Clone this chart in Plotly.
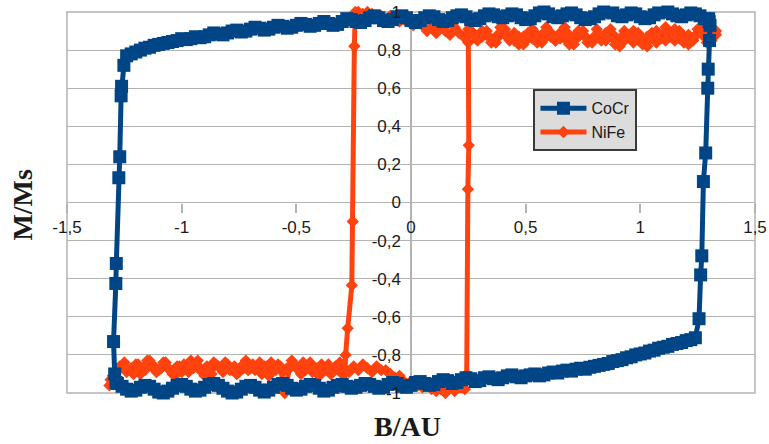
import plotly.graph_objects as go

# ---- CoCr hysteresis loop (B in AU, normalised magnetisation M/Ms) ----
# descending branch, from positive saturation towards the negative switching field
COCR_DOWN_B = [1.30, 1.28, 1.26, 1.24, 1.22,
               1.20, 1.18, 1.16, 1.14, 1.12, 1.10, 1.08, 1.06, 1.04, 1.02,
               1.00, 0.98, 0.96, 0.94, 0.92, 0.90, 0.88, 0.86, 0.84, 0.82,
               0.80, 0.78, 0.76, 0.74, 0.72, 0.70, 0.68, 0.66, 0.64, 0.62,
               0.60, 0.58, 0.56, 0.54, 0.52, 0.50, 0.48, 0.46, 0.44, 0.42,
               0.40,
               0.38, 0.36, 0.34, 0.32, 0.30, 0.28, 0.26, 0.24, 0.22, 0.20,
               0.18, 0.16, 0.14, 0.12, 0.10, 0.08, 0.06, 0.04, 0.02, 0.00,
               -0.02, -0.04, -0.06, -0.08, -0.10, -0.12, -0.14, -0.16, -0.18, -0.20,
               -0.22, -0.24, -0.26, -0.28, -0.30, -0.32, -0.34, -0.36, -0.38, -0.40,
               -0.42, -0.44, -0.46, -0.48, -0.50, -0.52, -0.54, -0.56, -0.58, -0.60,
               -0.62, -0.64, -0.66, -0.68, -0.70, -0.72, -0.74, -0.76, -0.78, -0.80,
               -0.82, -0.84, -0.86, -0.88, -0.90, -0.92, -0.94, -0.96, -0.98, -1.00,
               -1.02, -1.04, -1.06, -1.08, -1.10, -1.12, -1.14, -1.16, -1.18, -1.20,
               -1.22, -1.24]
COCR_DOWN_M = [0.95, 0.965, 0.98, 0.99, 0.995,
               0.985, 0.975, 0.98, 0.99, 1.0, 1.005, 0.995, 0.985, 0.97, 0.965,
               0.975, 0.99, 0.995, 0.985, 0.975, 0.98, 0.995, 1.005, 1.0, 0.99,
               0.975, 0.965, 0.96, 0.97, 0.985, 0.995, 0.99, 0.98, 0.97, 0.975,
               0.99, 1.0, 0.995, 0.98, 0.965, 0.96, 0.97, 0.985, 0.99, 0.98,
               0.97,
               0.975, 0.985, 0.99, 0.98, 0.965, 0.955, 0.96, 0.975, 0.985, 0.98,
               0.97, 0.955, 0.95, 0.96, 0.975, 0.98, 0.97, 0.955, 0.945, 0.955,
               0.97, 0.98, 0.975, 0.96, 0.95, 0.955, 0.97, 0.98, 0.97, 0.955,
               0.945, 0.95, 0.96, 0.965, 0.95, 0.935, 0.93, 0.94, 0.95, 0.94,
               0.93, 0.925, 0.935, 0.94, 0.93, 0.92, 0.915, 0.925, 0.93, 0.92,
               0.91, 0.905, 0.915, 0.92, 0.91, 0.90, 0.895, 0.905, 0.90, 0.89,
               0.88, 0.885, 0.89, 0.88, 0.87, 0.865, 0.87, 0.86, 0.855, 0.86,
               0.85, 0.845, 0.84, 0.835, 0.83, 0.825, 0.815, 0.81, 0.80, 0.79,
               0.78, 0.77]
# switching to negative saturation
COCR_FLIP_DOWN_B = [-1.252, -1.262, -1.264, -1.270, -1.274, -1.285, -1.287, -1.297, -1.292, -1.286]
COCR_FLIP_DOWN_M = [0.72, 0.61, 0.56, 0.24, 0.13, -0.32, -0.425, -0.73, -0.90, -0.945]
# ascending branch
COCR_UP_B = [-1.28, -1.26, -1.24, -1.22, -1.20, -1.18, -1.16, -1.14, -1.12, -1.10,
             -1.08, -1.06, -1.04, -1.02, -1.00, -0.98, -0.96, -0.94, -0.92, -0.90,
             -0.88, -0.86, -0.84, -0.82, -0.80, -0.78, -0.76, -0.74, -0.72, -0.70,
             -0.68, -0.66, -0.64, -0.62, -0.60, -0.58, -0.56, -0.54, -0.52, -0.50,
             -0.48, -0.46, -0.44, -0.42, -0.40, -0.38, -0.36, -0.34, -0.32, -0.30,
             -0.28, -0.26, -0.24, -0.22, -0.20,
             -0.18, -0.16, -0.14, -0.12, -0.10, -0.08, -0.06, -0.04, -0.02, 0.00,
             0.02, 0.04, 0.06, 0.08, 0.10, 0.12, 0.14, 0.16, 0.18, 0.20,
             0.22, 0.24, 0.26, 0.28, 0.30, 0.32, 0.34, 0.36, 0.38, 0.40,
             0.42, 0.44, 0.46, 0.48, 0.50,
             0.52, 0.54, 0.56, 0.58, 0.60, 0.62, 0.64, 0.66, 0.68, 0.70,
             0.72, 0.74, 0.76, 0.78, 0.80, 0.82, 0.84, 0.86, 0.88, 0.90,
             0.92, 0.94, 0.96, 0.98, 1.00, 1.02, 1.04, 1.06, 1.08, 1.10,
             1.12, 1.14, 1.16, 1.18, 1.20, 1.22, 1.24]
COCR_UP_M = [-0.95, -0.965, -0.98, -0.99, -0.985, -0.97, -0.96, -0.965, -0.98, -0.995,
             -1.0, -0.99, -0.975, -0.96, -0.955, -0.965, -0.98, -0.99, -0.985, -0.97,
             -0.955, -0.95, -0.96, -0.975, -0.99, -1.0, -0.995, -0.98, -0.965, -0.96,
             -0.97, -0.985, -0.995, -0.985, -0.97, -0.955, -0.95, -0.96, -0.975, -0.985,
             -0.98, -0.965, -0.955, -0.96, -0.975, -0.99, -0.985, -0.97, -0.96, -0.955,
             -0.965, -0.975, -0.97, -0.96, -0.95,
             -0.955, -0.965, -0.975, -0.97, -0.955, -0.945, -0.95, -0.965, -0.97, -0.96,
             -0.945, -0.94, -0.95, -0.96, -0.955, -0.94, -0.93, -0.935, -0.95, -0.945,
             -0.93, -0.92, -0.925, -0.94, -0.935, -0.92, -0.915, -0.925, -0.93, -0.92,
             -0.91, -0.905, -0.915, -0.92, -0.91,
             -0.905, -0.90, -0.91, -0.905, -0.895, -0.89, -0.895, -0.885, -0.88, -0.885,
             -0.875, -0.87, -0.875, -0.865, -0.86, -0.855, -0.85, -0.845, -0.835, -0.83,
             -0.825, -0.815, -0.81, -0.80, -0.795, -0.79, -0.78, -0.775, -0.765, -0.76,
             -0.755, -0.745, -0.74, -0.735, -0.725, -0.72, -0.71]
# switching back to positive saturation
COCR_FLIP_UP_B = [1.256, 1.263, 1.268, 1.275, 1.285, 1.294, 1.296, 1.302, 1.304, 1.298]
COCR_FLIP_UP_M = [-0.61, -0.38, -0.28, 0.11, 0.26, 0.60, 0.70, 0.85, 0.93, 0.965]

# ---- NiFe hysteresis loop ----
NIFE_DOWN_B = [1.33, 1.31, 1.29, 1.27, 1.25, 1.23, 1.21, 1.19, 1.17, 1.15,
               1.13, 1.11, 1.09, 1.07, 1.05, 1.03, 1.01, 0.99, 0.97, 0.95,
               0.93, 0.91, 0.89, 0.87, 0.85, 0.83, 0.81, 0.79, 0.77, 0.75,
               0.73, 0.71, 0.69, 0.67, 0.65, 0.63, 0.61, 0.59, 0.57, 0.55,
               0.53, 0.51, 0.49, 0.47, 0.45, 0.43, 0.41, 0.39, 0.37, 0.35,
               0.33, 0.31, 0.29, 0.27, 0.25, 0.23, 0.21, 0.19, 0.17, 0.15,
               0.13, 0.11,
               0.09, 0.07, 0.05, 0.03, 0.01, -0.01, -0.03, -0.05,
               -0.07, -0.09, -0.11, -0.13, -0.15, -0.17, -0.19, -0.21, -0.23]
NIFE_DOWN_M = [0.90, 0.87, 0.84, 0.88, 0.91, 0.86, 0.83, 0.87, 0.90, 0.85,
               0.88, 0.92, 0.86, 0.84, 0.89, 0.87, 0.83, 0.86, 0.90, 0.88,
               0.85, 0.82, 0.87, 0.91, 0.89, 0.85, 0.88, 0.84, 0.86, 0.90,
               0.87, 0.83, 0.88, 0.92, 0.86, 0.85, 0.89, 0.87, 0.84, 0.88,
               0.91, 0.86, 0.83, 0.87, 0.89, 0.85, 0.88, 0.92, 0.87, 0.84,
               0.88, 0.90, 0.86, 0.89, 0.91, 0.87, 0.89, 0.92, 0.88, 0.90,
               0.93, 0.89,
               0.92, 0.90, 0.93, 0.94, 0.93, 0.95, 0.96, 0.95,
               0.97, 0.98, 0.96, 0.98, 0.97, 0.99, 1.00, 0.99, 1.00]
NIFE_FLIP_DOWN_B = [-0.243, -0.247, -0.254, -0.258, -0.276, -0.285, -0.290, -0.300]
NIFE_FLIP_DOWN_M = [1.00, 0.82, -0.10, -0.435, -0.66, -0.80, -0.97, -0.90]
NIFE_LOW_B = [-0.32, -0.34, -0.36, -0.38, -0.40, -0.42, -0.44, -0.46, -0.48, -0.50,
              -0.52, -0.54, -0.56, -0.58, -0.60, -0.62, -0.64, -0.66, -0.68, -0.70,
              -0.72, -0.74, -0.76, -0.78, -0.80, -0.82, -0.84, -0.86, -0.88, -0.90,
              -0.92, -0.94, -0.96, -0.98, -1.00, -1.02, -1.04, -1.06, -1.08, -1.10,
              -1.12, -1.14, -1.16, -1.18, -1.20, -1.22, -1.24, -1.26, -1.28, -1.30,
              -1.31]
NIFE_LOW_M = [-0.86, -0.89, -0.85, -0.88, -0.91, -0.87, -0.84, -0.88, -0.90, -0.86,
              -0.83, -0.87, -0.89, -0.85, -0.88, -0.91, -0.86, -0.84, -0.88, -0.87,
              -0.83, -0.86, -0.90, -0.88, -0.85, -0.89, -0.86, -0.84, -0.87, -0.91,
              -0.88, -0.85, -0.83, -0.87, -0.89, -0.86, -0.90, -0.87, -0.84, -0.88,
              -0.86, -0.83, -0.88, -0.90, -0.85, -0.87, -0.89, -0.86, -0.88, -0.91,
              -0.93]
NIFE_UP_B = [-1.315,
             -1.29, -1.27, -1.25, -1.23, -1.21, -1.19, -1.17, -1.15, -1.13, -1.11,
             -1.09, -1.07, -1.05, -1.03, -1.01, -0.99, -0.97, -0.95, -0.93, -0.91,
             -0.89, -0.87, -0.85, -0.83, -0.81, -0.79, -0.77, -0.75, -0.73, -0.71,
             -0.69, -0.67, -0.65, -0.63, -0.61, -0.59, -0.57, -0.55, -0.53, -0.51,
             -0.49, -0.47, -0.45, -0.43, -0.41, -0.39, -0.37, -0.35, -0.33, -0.31,
             -0.29, -0.27, -0.25, -0.23, -0.21, -0.19, -0.17, -0.15, -0.13,
             -0.11, -0.09, -0.07, -0.05, -0.03, -0.01, 0.01, 0.03, 0.05, 0.07,
             0.09, 0.11, 0.13, 0.15, 0.17, 0.19, 0.21]
NIFE_UP_M = [-0.96,
             -0.89, -0.86, -0.84, -0.88, -0.90, -0.85, -0.87, -0.83, -0.86, -0.89,
             -0.87, -0.84, -0.88, -0.91, -0.86, -0.85, -0.89, -0.87, -0.83, -0.88,
             -0.86, -0.90, -0.85, -0.87, -0.84, -0.88, -0.86, -0.89, -0.87, -0.88,
             -0.85, -0.87, -0.90, -0.86, -0.84, -0.88, -0.86, -1.00, -0.87, -0.85,
             -0.88, -0.84, -0.86, -0.89, -0.87, -0.85, -0.88, -0.90, -0.86, -0.84,
             -0.87, -0.89, -0.86, -0.88, -0.85, -0.87, -0.89, -0.86, -0.88,
             -0.88, -0.90, -0.92, -0.91, -0.94, -0.95, -0.94, -0.96, -0.97, -0.96,
             -0.98, -0.99, -0.98, -1.00, -1.01, -0.99, -1.01]
NIFE_FLIP_UP_B = [0.235, 0.243, 0.248, 0.252, 0.250, 0.255, 0.262]
NIFE_FLIP_UP_M = [-0.98, -0.90, 0.07, 0.30, 0.84, 0.97, 0.90]
NIFE_HIGH_B = [0.27, 0.29, 0.31, 0.33, 0.35, 0.37, 0.39, 0.41, 0.43, 0.45,
               0.47, 0.49, 0.51, 0.53, 0.55, 0.57, 0.59, 0.61, 0.63, 0.65,
               0.67, 0.69, 0.71, 0.73, 0.75, 0.77, 0.79, 0.81, 0.83, 0.85,
               0.87, 0.89, 0.91, 0.93, 0.95, 0.97, 0.99, 1.01, 1.03, 1.05,
               1.07, 1.09, 1.11, 1.13, 1.15, 1.17, 1.19, 1.21, 1.23, 1.25,
               1.27, 1.29, 1.31, 1.33]
NIFE_HIGH_M = [0.88, 0.85, 0.87, 0.90, 0.86, 0.84, 0.88, 0.91, 0.87, 0.85,
               0.83, 0.87, 0.89, 0.86, 0.84, 0.88, 0.92, 0.87, 0.85, 0.89,
               0.86, 0.83, 0.87, 0.90, 0.88, 0.84, 0.86, 0.91, 0.87, 0.85,
               0.88, 0.83, 0.86, 0.90, 0.87, 0.84, 0.89, 0.86, 0.82, 0.87,
               0.90, 0.88, 0.85, 0.87, 0.91, 0.86, 0.84, 0.88, 0.85, 0.89,
               0.92, 0.87, 0.85, 0.88]

# ---- axis ticks ----
X_TICKS = [-1.5, -1.0, -0.5, 0.0, 0.5, 1.0, 1.5]
X_TICK_TEXT = ["-1,5", "-1", "-0,5", "0", "0,5", "1", "1,5"]
Y_TICKS = [-1.0, -0.8, -0.6, -0.4, -0.2, 0.0, 0.2, 0.4, 0.6, 0.8, 1.0]
Y_TICK_TEXT = ["-1", "-0,8", "-0,6", "-0,4", "-0,2", "0", "0,2", "0,4", "0,6", "0,8", "1"]


def join(*parts):
    out = []
    for p in parts:
        out.extend(p)
    return out


cocr_b = join(COCR_DOWN_B, COCR_FLIP_DOWN_B, COCR_UP_B, COCR_FLIP_UP_B)
cocr_m = join(COCR_DOWN_M, COCR_FLIP_DOWN_M, COCR_UP_M, COCR_FLIP_UP_M)
nife_b = join(NIFE_DOWN_B, NIFE_FLIP_DOWN_B, NIFE_LOW_B, NIFE_UP_B, NIFE_FLIP_UP_B, NIFE_HIGH_B)
nife_m = join(NIFE_DOWN_M, NIFE_FLIP_DOWN_M, NIFE_LOW_M, NIFE_UP_M, NIFE_FLIP_UP_M, NIFE_HIGH_M)
assert len(cocr_b) == len(cocr_m), (len(cocr_b), len(cocr_m))
assert len(nife_b) == len(nife_m), (len(nife_b), len(nife_m))

BLUE = "#004586"
ORANGE = "#ff420e"
GRID = "#b3b3b3"
TICK_FONT = dict(family="Liberation Sans, Arial, sans-serif", size=17, color="#1a1a1a")
TITLE_FONT = dict(family="Liberation Serif, Times New Roman, serif", size=28, color="#1a1a1a")

fig = go.Figure()
fig.add_trace(go.Scatter(
    x=nife_b, y=nife_m, name="NiFe", mode="lines+markers", legendrank=2,
    line=dict(color=ORANGE, width=5),
    marker=dict(symbol="diamond", size=9.5, color=ORANGE),
    cliponaxis=False,
))
fig.add_trace(go.Scatter(
    x=cocr_b, y=cocr_m, name="CoCr", mode="lines+markers", legendrank=1,
    line=dict(color=BLUE, width=5),
    marker=dict(symbol="square", size=13, color=BLUE),
    cliponaxis=False,
))

fig.update_layout(
    width=769, height=444,
    margin=dict(l=67, r=14, t=12, b=51),
    paper_bgcolor="white", plot_bgcolor="white",
    showlegend=True,
    legend=dict(
        x=0.678, y=0.797, xanchor="left", yanchor="top",
        bgcolor="#dcdcdc", bordercolor="#3a3a3a", borderwidth=2,
        font=dict(family="Liberation Sans, Arial, sans-serif", size=16, color="#1a1a1a"),
        itemwidth=46, tracegroupgap=0,
    ),
    xaxis=dict(
        range=[-1.5, 1.5], tickvals=X_TICKS, ticktext=X_TICK_TEXT,
        showgrid=False, zeroline=True, zerolinecolor=GRID, zerolinewidth=1.5,
        showline=False, anchor="free", position=0.5, automargin=False,
        ticks="outside", ticklen=9, tickwidth=1.5, tickcolor=GRID,
        tickfont=TICK_FONT,
    ),
    yaxis=dict(
        range=[-1, 1], tickvals=Y_TICKS, ticktext=Y_TICK_TEXT,
        showgrid=True, gridcolor=GRID, gridwidth=1.3,
        zeroline=True, zerolinecolor=GRID, zerolinewidth=1.3,
        showline=False, anchor="free", position=0.5, automargin=False,
        ticks="", ticklabelstandoff=10,
        tickfont=TICK_FONT,
    ),
    shapes=[dict(type="rect", xref="paper", yref="paper", x0=0, y0=0, x1=1, y1=1,
                 line=dict(color=GRID, width=1.5), layer="below")],
    annotations=[
        dict(text="<b>B/AU</b>", xref="paper", yref="paper", x=0.4956, y=-0.089,
             xanchor="center", yanchor="middle", showarrow=False, font=TITLE_FONT),
        dict(text="<b>M/Ms</b>", xref="paper", yref="paper", x=-0.066, y=0.4934,
             xanchor="center", yanchor="middle", showarrow=False, textangle=-90,
             font=TITLE_FONT),
    ],
)

fig.write_html("out.html", config={"displayModeBar": False})
